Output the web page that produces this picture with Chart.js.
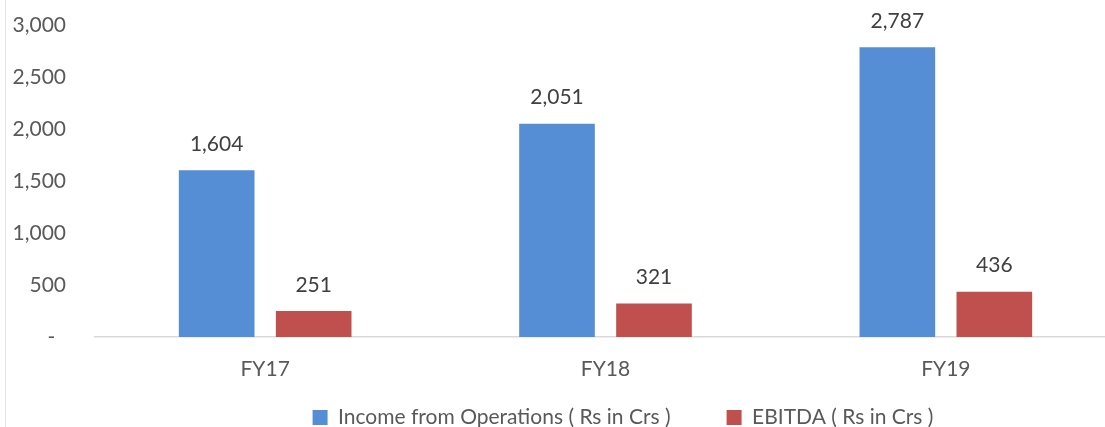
<!DOCTYPE html>
<html>
<head>
<meta charset="utf-8">
<script src="https://cdn.jsdelivr.net/npm/chart.js@4.4.1/dist/chart.umd.min.js"></script>
<style>
  html, body { margin: 0; padding: 0; background: #fff; overflow: hidden; }
  #wrap { width: 1105px; height: 427px; overflow: hidden; }
</style>
</head>
<body>
<div id="wrap"><canvas id="finChart" width="1125" height="427"></canvas></div>
<script>
// Chart data
const years = ['FY17', 'FY18', 'FY19'];
const incomeOps = [1604, 2051, 2787];
const ebitda = [251, 321, 436];
const yTicks = [0, 500, 1000, 1500, 2000, 2500, 3000];

const fontFamily = 'Lato, "Open Sans", sans-serif';
const textColor = '#595959';

// value labels above each bar
const barLabels = {
    id: 'barLabels',
    afterDatasetsDraw(chart) {
        const ctx = chart.ctx;
        ctx.save();
        ctx.font = '21px ' + fontFamily;
        ctx.fillStyle = '#404040';
        ctx.textAlign = 'center';
        ctx.textBaseline = 'middle';
        chart.data.datasets.forEach((ds, i) => {
            chart.getDatasetMeta(i).data.forEach((bar, j) => {
                ctx.fillText(ds.data[j].toLocaleString('en-US'), bar.x, bar.y - 26);
            });
        });
        ctx.restore();
    }
};

// thin frame line on the left and legend placement
const frame = {
    id: 'frame',
    afterLayout(chart) {
        const lg = chart.legend;
        const half = (lg.right - lg.left) / 2;
        lg.left = 623 - half;
        lg.right = 623 + half;
        lg.top = 351;
        lg.bottom = 427;
    },
    beforeDraw(chart) {
        const ctx = chart.ctx;
        ctx.save();
        ctx.strokeStyle = '#e6e6e6';
        ctx.lineWidth = 1;
        ctx.beginPath();
        ctx.moveTo(5.5, 0);
        ctx.lineTo(5.5, 427);
        ctx.stroke();
        ctx.restore();
    }
};

const ctx = document.getElementById('finChart').getContext('2d');
const finChart = new Chart(ctx, {
    type: 'bar',
    data: {
        labels: years,
        datasets: [{
            label: 'Income from Operations ( Rs in Crs )',
            data: incomeOps,
            backgroundColor: '#558ED5',
            categoryPercentage: 0.57,
            barPercentage: 0.78
        }, {
            label: 'EBITDA ( Rs in Crs )',
            data: ebitda,
            backgroundColor: '#C0504D',
            categoryPercentage: 0.57,
            barPercentage: 0.78
        }]
    },
    options: {
        responsive: false,
        animation: false,
        layout: { autoPadding: false, padding: { top: 25, right: 9, bottom: 6, left: 0 } },
        scales: {
            x: {
                afterFit(scale) { scale.height = 44; },
                grid: { display: false, drawTicks: false },
                border: { color: '#d9d9d9', width: 1.5 },
                ticks: { color: textColor, padding: 20, font: { family: fontFamily, size: 21 } }
            },
            y: {
                min: 0,
                max: 3000,
                afterFit(scale) {
                    scale.width = 95;
                    scale.paddingTop = 0;
                    scale.paddingBottom = 0;
                },
                afterBuildTicks(scale) { scale.ticks = yTicks.map(v => ({ value: v })); },
                grid: { display: false, drawTicks: false },
                border: { display: false },
                ticks: {
                    color: textColor,
                    padding: 29,
                    font: { family: fontFamily, size: 21 },
                    callback: v => v === 0 ? '-  ' : v.toLocaleString('en-US')
                }
            }
        },
        plugins: {
            tooltip: { enabled: false },
            legend: {
                position: 'bottom',
                maxHeight: 40,
                labels: {
                    color: textColor,
                    boxWidth: 15,
                    boxHeight: 15,
                    padding: 56,
                    font: { family: fontFamily, size: 21 }
                }
            }
        }
    },
    plugins: [barLabels, frame]
});
</script>
</body>
</html>
